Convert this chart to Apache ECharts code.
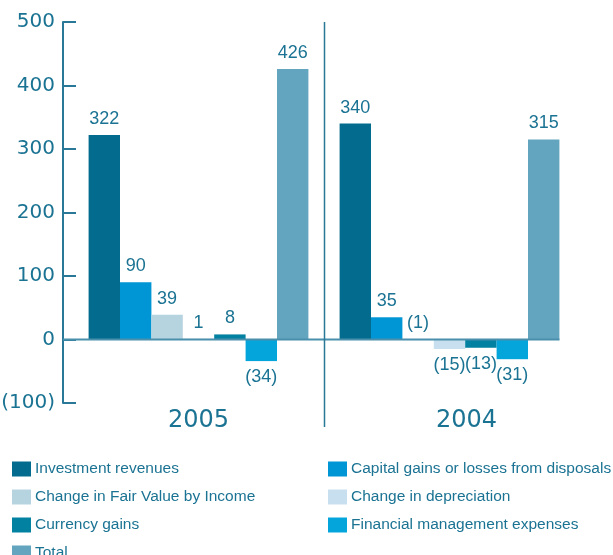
<!DOCTYPE html>
<html>
<head>
<meta charset="utf-8">
<script src="https://cdn.jsdelivr.net/npm/echarts@6/dist/echarts.min.js"></script>
<style>
  html, body { margin: 0; padding: 0; background: #fff; }
  #main { width: 613px; height: 555px; }
</style>
</head>
<body>
<div id="main"></div>
<script>
// values (negatives shown in brackets)
var years = ['2005', '2004'];
var investmentRevenues = [322, 340];
var capitalGains = [90, 35];
var fairValueChange = [39, -1];
var depreciationChange = [1, -15];
var currencyGains = [8, -13];
var mgmtExpenses = [-34, -31];
var totals = [426, 315];

var seriesNames = [
  'Investment revenues',
  'Capital gains or losses from disposals',
  'Change in Fair Value by Income',
  'Change in depreciation',
  'Currency gains',
  'Financial management expenses',
  'Total'
];
var seriesValues = [investmentRevenues, capitalGains, fairValueChange, depreciationChange, currencyGains, mgmtExpenses, totals];
var colors = ['#036c8e', '#0095d4', '#b6d4e0', '#c8dff0', '#0381a0', '#03a5db', '#63a5bf'];
var txt = '#1b7393';
var sans = '"Liberation Sans", Arial, sans-serif';

function fmt(v) { return v < 0 ? '(' + Math.abs(v) + ')' : String(v); }

var series = seriesNames.map(function (name, i) {
  return {
    name: name,
    type: 'bar',
    barWidth: 31.4,
    barGap: '0%',
    itemStyle: { color: colors[i] },
    data: seriesValues[i].map(function (v) {
      return {
        value: v,
        label: { position: v < -5 ? 'bottom' : 'top' }
      };
    }),
    label: {
      show: true,
      distance: 7,
      color: txt,
      fontFamily: sans,
      fontSize: 18,
      formatter: function (p) { return fmt(p.value); }
    }
  };
});

function legendCol(names, left) {
  return {
    data: names,
    orient: 'vertical', left: left, top: 461, height: 110,
    padding: 0,
    itemWidth: 19, itemHeight: 15, itemGap: 12, icon: 'rect',
    selectedMode: false,
    textStyle: { color: txt, fontSize: 15.5, lineHeight: 15, fontFamily: sans, padding: [0, 0, 0, -1] }
  };
}

var myChart = echarts.init(document.getElementById('main'));
var option = {
  animation: false,
  color: colors,
  grid: { left: 73, right: 38, top: 22, bottom: 152, containLabel: false, outerBoundsMode: 'none' },
  legend: [
    legendCol([seriesNames[0], seriesNames[2], seriesNames[4], seriesNames[6]], 12),
    legendCol([seriesNames[1], seriesNames[3], seriesNames[5]], 328)
  ],
  xAxis: {
    type: 'category',
    data: years,
    axisLine: { show: false, onZero: false },
    axisTick: { show: false },
    axisLabel: {
      margin: 6,
      formatter: function (v, i) { return i === 1 ? '{b|' + v + '}' : '{a|' + v + '}'; },
      rich: {
        a: { color: txt, fontSize: 24, fontFamily: '"DejaVu Sans", sans-serif' },
        b: { color: txt, fontSize: 24, fontFamily: '"DejaVu Sans", sans-serif', padding: [0, 0, 0, 34] }
      }
    }
  },
  yAxis: {
    type: 'value',
    min: -100,
    max: 500,
    interval: 100,
    offset: 10,
    axisLine: { show: true, lineStyle: { color: '#2a7897', width: 2 } },
    axisTick: { show: true, inside: true, length: 13, lineStyle: { color: '#2a7897', width: 2 } },
    splitLine: { show: false },
    axisLabel: {
      margin: 8,
      color: txt,
      fontSize: 20,
      fontFamily: '"DejaVu Sans", sans-serif',
      formatter: function (v) { return fmt(v); }
    }
  },
  series: series
};
myChart.setOption(option);

// zero line and the divider between the two years
var p0 = myChart.convertToPixel({ gridIndex: 0 }, [years[0], 0]);
var p1 = myChart.convertToPixel({ gridIndex: 0 }, [years[1], 500]);
var pb = myChart.convertToPixel({ gridIndex: 0 }, [years[1], -100]);
var midX = Math.round((p0[0] + p1[0]) / 2) + 0.5;
myChart.setOption({
  graphic: [
    {
      type: 'line', z: 10,
      shape: { x1: 63, y1: p0[1], x2: p1[0] + 110, y2: p0[1] },
      style: { stroke: '#4a8fab', lineWidth: 2 }
    },
    {
      type: 'line', z: 10,
      shape: { x1: midX, y1: p1[1], x2: midX, y2: pb[1] + 24 },
      style: { stroke: '#2a7897', lineWidth: 1.5 }
    }
  ]
});
</script>
</body>
</html>
